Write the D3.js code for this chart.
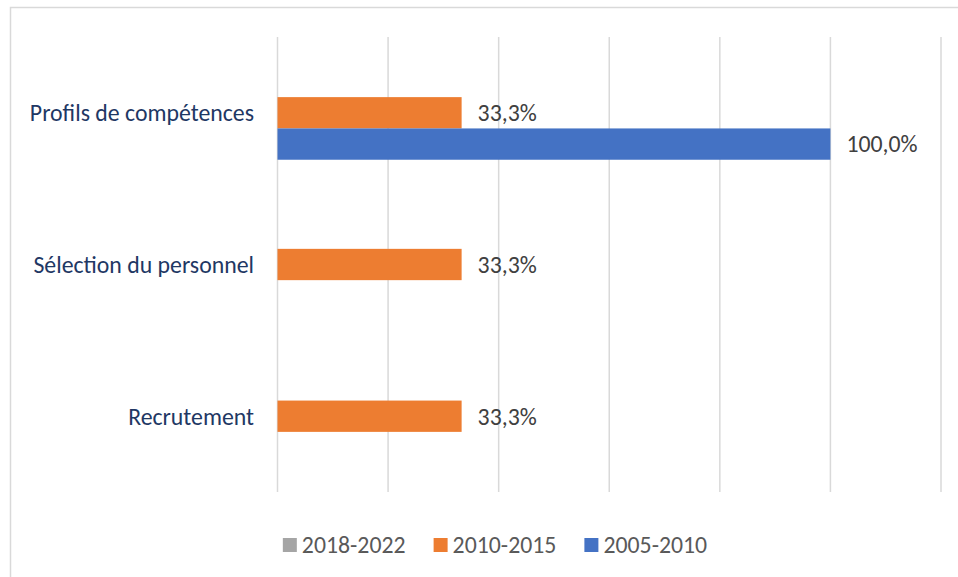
<!DOCTYPE html>
<html>
<head>
<meta charset="utf-8">
<script src="https://cdn.jsdelivr.net/npm/d3@7"></script>
<style>
  html, body { margin: 0; padding: 0; background: #fff; }
  svg { display: block; }
  text { font-family: Carlito, Calibri, Lato, "Liberation Sans", sans-serif; }
</style>
</head>
<body>
<svg id="chart" width="958" height="577"></svg>
<script>
// Categories (top to bottom) and series (drawn top to bottom inside each group)
const categories = ["Profils de compétences", "Sélection du personnel", "Recrutement"];
const seriesNames = ["2018-2022", "2010-2015", "2005-2010"];
const seriesColors = ["#A5A5A5", "#ED7D31", "#4472C4"];
// Shares per category; null = no value for that period
const values2018_2022 = [null, null, null];
const values2010_2015 = [0.333, 0.333, 0.333];
const values2005_2010 = [1.0, null, null];
const xTicks = [0, 0.2, 0.4, 0.6, 0.8, 1.0, 1.2];

const seriesValues = [values2018_2022, values2010_2015, values2005_2010];

const svg = d3.select("#chart");
const FONT = 23.8;

// Chart frame (extends beyond the right and bottom edges)
svg.append("rect")
  .attr("x", 10.5).attr("y", 7.5)
  .attr("width", 980).attr("height", 600)
  .attr("fill", "#fff")
  .attr("stroke", "#D9D9D9").attr("stroke-width", 1.5);

const plot = { left: 277.5, right: 941, top: 37, bottom: 492 };

const x = d3.scaleLinear().domain([0, 1.2]).range([plot.left, plot.right]);
const y = d3.scaleBand().domain(categories)
  .range([plot.top, plot.bottom]).paddingInner(0.381).paddingOuter(0.19);
const ySub = d3.scaleBand().domain(seriesNames).range([0, y.bandwidth()]);

// Vertical gridlines
svg.append("g").selectAll("line")
  .data(xTicks).join("line")
  .attr("x1", d => x(d)).attr("x2", d => x(d))
  .attr("y1", plot.top).attr("y2", plot.bottom)
  .attr("stroke", "#D9D9D9").attr("stroke-width", 1.5);

// Bars
const rows = [];
categories.forEach((c, i) => {
  seriesNames.forEach((s, j) => {
    const v = seriesValues[j][i];
    if (v != null) rows.push({ cat: c, series: s, color: seriesColors[j], value: v });
  });
});

svg.append("g").selectAll("rect")
  .data(rows).join("rect")
  .attr("x", x(0))
  .attr("y", d => y(d.cat) + ySub(d.series))
  .attr("width", d => x(d.value) - x(0))
  .attr("height", ySub.bandwidth())
  .attr("fill", d => d.color);

// Value labels
const fmt = v => (v * 100).toFixed(1).replace(".", ",") + "%";
svg.append("g").selectAll("text")
  .data(rows).join("text")
  .attr("x", d => x(d.value) + 16)
  .attr("y", d => y(d.cat) + ySub(d.series) + ySub.bandwidth() / 2)
  .attr("dy", "0.35em")
  .attr("font-size", FONT)
  .attr("fill", "#404040")
  .text(d => fmt(d.value));

// Category axis labels
svg.append("g").selectAll("text")
  .data(categories).join("text")
  .attr("x", 254)
  .attr("y", d => y(d) + y.bandwidth() / 2)
  .attr("dy", "0.35em")
  .attr("text-anchor", "end")
  .attr("font-size", FONT)
  .attr("fill", "#1F3864")
  .text(d => d);

// Legend, centred under the chart frame
const legend = svg.append("g");
const items = legend.selectAll("g").data(seriesNames).join("g");
items.append("rect")
  .attr("width", 14).attr("height", 14)
  .attr("y", -7)
  .attr("fill", (d, i) => seriesColors[i]);
items.append("text")
  .attr("x", 19)
  .attr("dy", "0.35em")
  .attr("font-size", FONT)
  .attr("fill", "#595959")
  .text(d => d);
let cx = 0;
items.each(function () {
  const w = 19 + d3.select(this).select("text").node().getComputedTextLength();
  d3.select(this).attr("transform", `translate(${cx},0)`);
  cx += w + 28;
});
const totalW = cx - 28;
legend.attr("transform", `translate(${495 - totalW / 2},545)`);
</script>
</body>
</html>
